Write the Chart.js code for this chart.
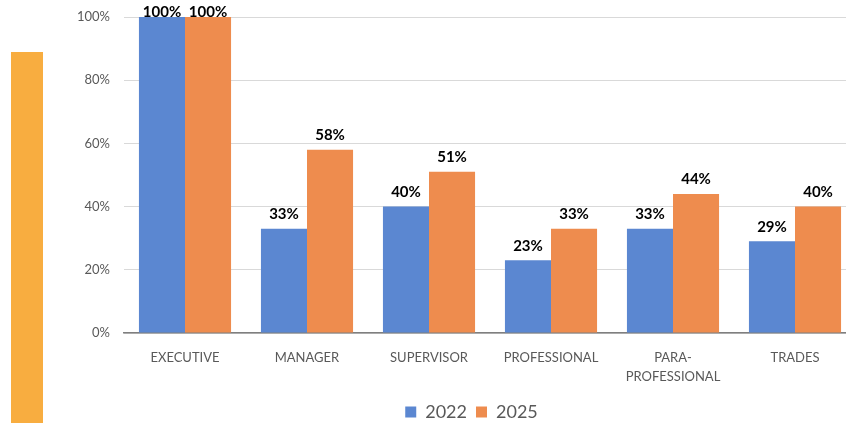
<!DOCTYPE html>
<html>
<head>
<meta charset="utf-8">
<script src="https://cdn.jsdelivr.net/npm/chart.js@4"></script>
<style>
  body { margin: 0; overflow: hidden; background: #fff; }
  #wrap { position: relative; width: 860px; height: 431px; }
  #stripe { position: absolute; left: 11px; top: 52px; width: 32px; height: 379px; background: #f8ad40; }
</style>
</head>
<body>
<div id="wrap">
  <div id="stripe"></div>
  <canvas id="myChart"></canvas>
</div>
<script>
const categories = ['EXECUTIVE', 'MANAGER', 'SUPERVISOR', 'PROFESSIONAL', ['PARA-', 'PROFESSIONAL'], 'TRADES'];
const values2022 = [100, 33, 40, 23, 33, 29];
const values2025 = [100, 58, 51, 33, 44, 40];
const yTicks = [0, 20, 40, 60, 80, 100];

// draws the percent labels above each bar (kept inside the canvas at the top)
const barLabels = {
    id: 'barLabels',
    afterDatasetsDraw(chart) {
        const ctx = chart.ctx;
        ctx.save();
        ctx.font = 'bold 15px Lato';
        ctx.fillStyle = '#000';
        ctx.textAlign = 'center';
        ctx.textBaseline = 'bottom';
        chart.data.datasets.forEach((ds, i) => {
            chart.getDatasetMeta(i).data.forEach((bar, j) => {
                ctx.fillText(ds.data[j] + '%', bar.x, Math.max(bar.y - 7, 20));
            });
        });
        ctx.restore();
    }
};

// nudge the legend a little to the right, like the original
const legendShift = {
    id: 'legendShift',
    afterLayout(chart) {
        chart.legend.left += 12;
        chart.legend.right += 12;
    }
};

const ctx = document.getElementById('myChart').getContext('2d');

const myChart = new Chart(ctx, {
    type: 'bar',
    data: {
        labels: categories,
        datasets: [
            { label: '2022', backgroundColor: '#5b87d1', data: values2022 },
            { label: '2025', backgroundColor: '#ee8c4e', data: values2025 }
        ]
    },
    options: {
        responsive: true,
        maintainAspectRatio: false,
        animation: false,
        layout: { padding: { left: 63, right: 4, top: 17, bottom: 0 } },
        datasets: { bar: { categoryPercentage: 0.755, barPercentage: 1.0 } },
        scales: {
            x: {
                grid: { display: false },
                border: { color: '#7f7f7f', width: 1.5 },
                ticks: { color: '#595959', font: { family: 'Lato', size: 13, lineHeight: 1.5 }, padding: 7, maxRotation: 0, autoSkip: false }
            },
            y: {
                min: 0,
                max: 100,
                afterBuildTicks: axis => { axis.ticks = yTicks.map(v => ({ value: v })); },
                afterFit: axis => { axis.width = 61; },
                grid: { color: '#d9d9d9', drawTicks: true, tickLength: 10, tickColor: 'rgba(0,0,0,0)' },
                border: { display: false },
                ticks: {
                    color: '#595959',
                    font: { family: 'Lato', size: 13 },
                    padding: 4,
                    callback: v => v + '%'
                }
            }
        },
        plugins: {
            legend: {
                position: 'bottom',
                labels: {
                    color: '#595959',
                    font: { family: 'Lato', size: 18 },
                    boxWidth: 11,
                    boxHeight: 11,
                    padding: 9
                }
            },
            tooltip: { enabled: false }
        }
    },
    plugins: [barLabels, legendShift]
});
</script>
</body>
</html>
